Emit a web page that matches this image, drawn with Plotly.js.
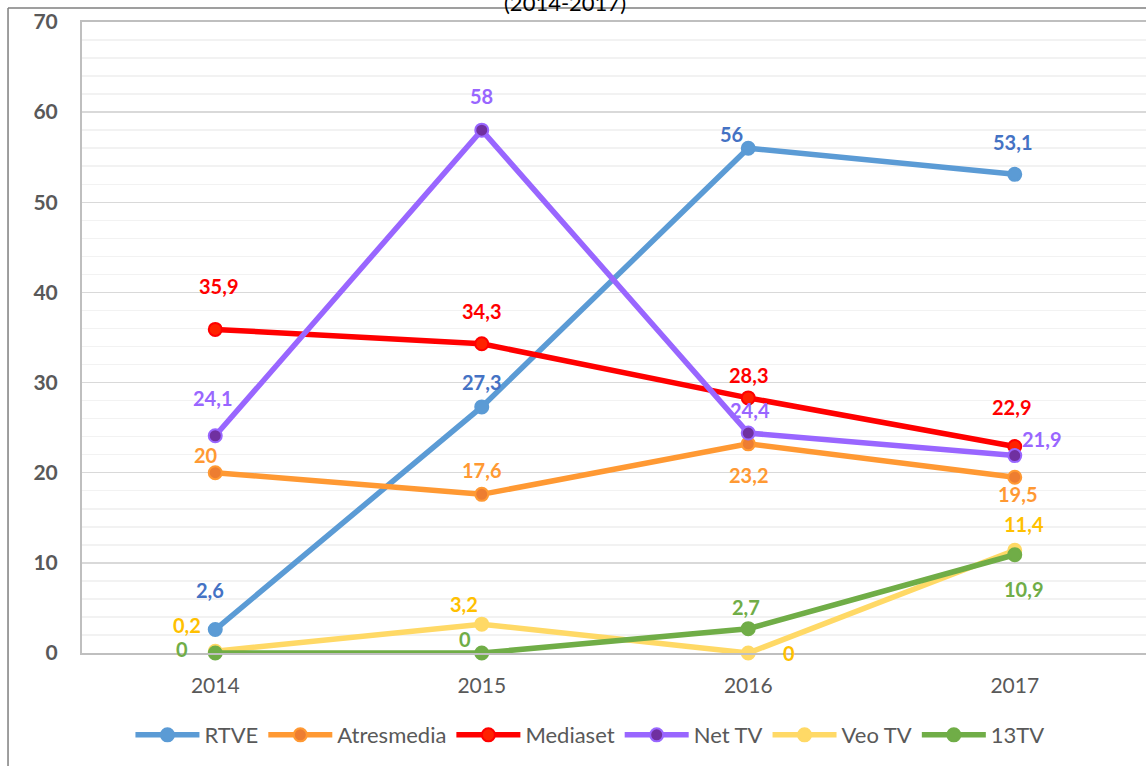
<!DOCTYPE html>
<html>
<head>
<meta charset="utf-8">
<script src="https://cdn.plot.ly/plotly-3.0.1.min.js"></script>
<style>
  html, body { margin: 0; padding: 0; background: #fff; overflow: hidden; }
  #chart { width: 1150px; height: 766px; }
</style>
</head>
<body>
<div id="chart"></div>
<script>
// Data
const years = ['2014', '2015', '2016', '2017'];
const seriesNames = ['RTVE', 'Atresmedia', 'Mediaset', 'Net TV', 'Veo TV', '13TV'];
const rtve = [2.6, 27.3, 56, 53.1];
const atresmedia = [20, 17.6, 23.2, 19.5];
const mediaset = [35.9, 34.3, 28.3, 22.9];
const netTv = [24.1, 58, 24.4, 21.9];
const veoTv = [0.2, 3.2, 0, 11.4];
const trece = [0, 0, 2.7, 10.9];
const seriesValues = [rtve, atresmedia, mediaset, netTv, veoTv, trece];

// Styles per series
const lineColors = ['#5B9BD5', '#FF9933', '#FF0000', '#9966FF', '#FFD966', '#70AD47'];
const markerFills = ['#5B9BD5', '#ED7D31', '#FF2200', '#7030A0', '#FFD966', '#70AD47'];
const labelColors = ['#4472C4', '#FF9933', '#FF0000', '#9966FF', '#FFC000', '#70AD47'];

// Label offsets in px [xshift, yshift] for each point
const labelOffsets = [
    [[-5, 40], [0, 25], [-17, 14], [-2, 32]],
    [[-9, 18], [0, 24], [0, -31], [3, -17]],
    [[3, 43], [0, 33], [0, 23], [-3, 40]],
    [[-3, 38], [0, 34], [2, 23], [27, 17]],
    [[-28, 26], [-18, 20], [41, 0], [9, 26]],
    [[-33, 4], [-17, 14], [-2, 22], [9, -34]]
];

const fontFamily = 'Lato, "Open Sans", sans-serif';

const traces = seriesNames.map((name, i) => ({
    type: 'scatter',
    mode: 'lines+markers',
    name: name,
    x: years,
    y: seriesValues[i],
    line: { color: lineColors[i], width: 5.5 },
    marker: {
        color: markerFills[i],
        size: 13,
        line: { color: lineColors[i], width: 2 }
    },
    cliponaxis: false
}));

// Data labels with decimal commas (x given as category index)
const annotations = [];
seriesValues.forEach((vals, i) => {
    vals.forEach((v, j) => {
        annotations.push({
            x: j,
            y: v,
            xref: 'x',
            yref: 'y',
            text: '<b>' + String(v).replace('.', ',') + '</b>',
            showarrow: false,
            xshift: labelOffsets[i][j][0],
            yshift: labelOffsets[i][j][1],
            font: { family: fontFamily, size: 20, color: labelColors[i] }
        });
    });
});

// Chart title, cut off at the top of the image as in the source
annotations.push({
    x: 0.453,
    y: 1,
    xref: 'paper',
    yref: 'paper',
    yshift: 35,
    text: '(2014-2017)',
    showarrow: false,
    font: { family: fontFamily, size: 22, color: '#000000' }
});

const layout = {
    width: 1150,
    height: 766,
    margin: { l: 82, r: 2, t: 22, b: 113 },
    paper_bgcolor: '#ffffff',
    plot_bgcolor: '#ffffff',
    font: { family: fontFamily, color: '#595959' },
    showlegend: true,
    legend: {
        orientation: 'h',
        x: 0.4765,
        xanchor: 'center',
        y: -0.13,
        yanchor: 'middle',
        font: { family: fontFamily, size: 22, color: '#595959' },
        itemwidth: 64,
        traceorder: 'normal'
    },
    xaxis: {
        type: 'category',
        range: [-0.5, 3.5],
        showgrid: false,
        showline: true,
        linecolor: '#BFBFBF',
        linewidth: 2,
        mirror: true,
        ticks: '',
        ticklabelstandoff: 13,
        tickfont: { family: fontFamily, size: 21, color: '#595959' },
        fixedrange: true
    },
    yaxis: {
        range: [0, 70],
        dtick: 10,
        showgrid: true,
        gridcolor: '#D9D9D9',
        gridwidth: 1.5,
        minor: { dtick: 2, showgrid: true, gridcolor: '#F2F2F2', gridwidth: 1.5 },
        showline: true,
        linecolor: '#BFBFBF',
        linewidth: 2,
        zeroline: false,
        ticks: '',
        ticklabelstandoff: 18,
        tickfont: { family: fontFamily, size: 21, color: '#595959', weight: 'bold' },
        fixedrange: true
    },
    shapes: [
        // Outer chart border (top and left)
        { type: 'line', xref: 'paper', yref: 'paper', x0: -0.0694, x1: 1.1, y0: 1.0222, y1: 1.0222,
          line: { color: '#7F7F7F', width: 1.5 } },
        { type: 'line', xref: 'paper', yref: 'paper', x0: -0.0694, x1: -0.0694, y0: 1.0222, y1: -0.3,
          line: { color: '#7F7F7F', width: 1.5 } }
    ],
    annotations: annotations
};

Plotly.newPlot('chart', traces, layout, { displayModeBar: false, staticPlot: true });
</script>
</body>
</html>
